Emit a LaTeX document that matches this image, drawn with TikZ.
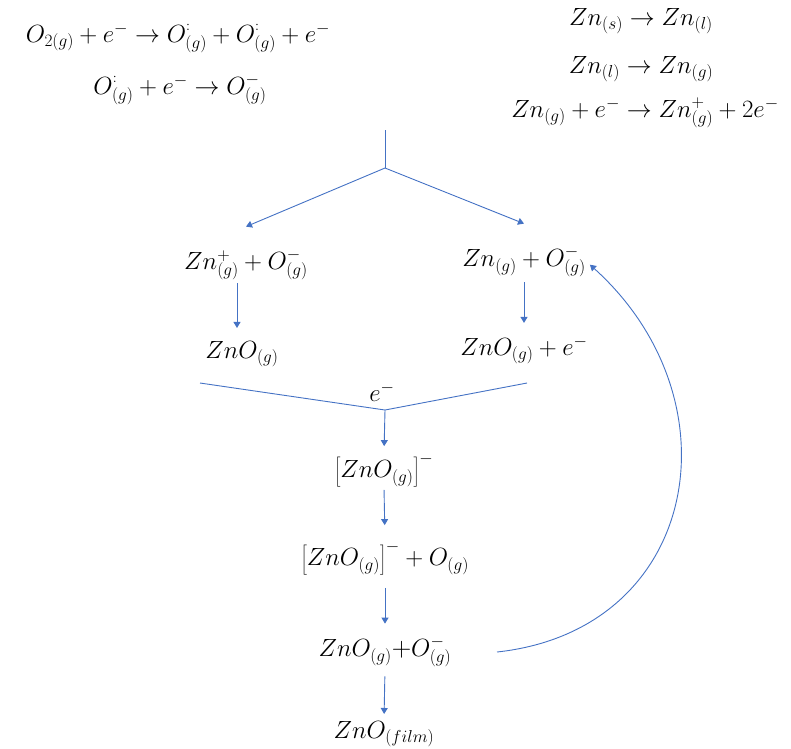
\documentclass[tikz,border=0pt]{standalone}
\usetikzlibrary{arrows.meta}
\definecolor{flowblue}{RGB}{68,114,196}
\newcommand{\rad}{^{\raisebox{3pt}{$\scriptscriptstyle :$}}}
\begin{document}
\begin{tikzpicture}[x=1pt,y=-1pt,
  eq/.style={inner sep=1pt,font=\fontsize{27}{32}\selectfont},
  flow/.style={draw=flowblue,line width=0.9pt},
  flowarrow/.style={flow,-{Triangle[length=6pt,width=7pt]}}]
\useasboundingbox (0,0) rectangle (791,748);
% oxygen side
\node[eq] (odiss) at (178,38) {$O_{2(g)}+e^-\rightarrow O\rad_{(g)}+O\rad_{(g)}+e^-$};
\node[eq] (oion) at (180,90) {$O\rad_{(g)}+e^-\rightarrow O^{-}_{(g)}$};
% zinc side
\node[eq] (zmelt) at (641,21) {$Zn_{(s)}\rightarrow Zn_{(l)}$};
\node[eq] (zevap) at (641,69) {$Zn_{(l)}\rightarrow Zn_{(g)}$};
\node[eq] (zion) at (645,113) {$Zn_{(g)}+e^-\rightarrow Zn^{+}_{(g)}+2e^-$};
% fork
\coordinate (stem) at (385,130);
\coordinate (fork) at (385,168);
\node[eq] (znion) at (246,265) {$Zn^{+}_{(g)}+O^{-}_{(g)}$};
\node[eq] (zngas) at (524,262) {$Zn_{(g)}+O^{-}_{(g)}$};
\node[eq] (znoa) at (242,354) {$ZnO_{(g)}$};
\node[eq] (znob) at (524,350) {$ZnO_{(g)}+e^-$};
% merge
\coordinate (mergeL) at (200,383);
\coordinate (mergeR) at (527,383);
\coordinate (merge) at (385,410);
\node[eq] (elec) at (382,392) {$e^-$};
\node[eq] (anion) at (384,470) {$\left[ZnO_{(g)}\right]^-$};
\node[eq] (anionO) at (385,558) {$\left[ZnO_{(g)}\right]^-+O_{(g)}$};
\node[eq] (znoO) at (385,652) {$ZnO_{(g)}$+$O^{-}_{(g)}$};
\node[eq] (film) at (384,734) {$ZnO_{(film)}$};
\coordinate (loop) at (497,652);

\draw[flow] (stem) -- (fork);
\draw[flowarrow] (fork) -- ([yshift=22pt]znion.north);
\draw[flowarrow] (fork) -- ([yshift=22pt]zngas.north);
\draw[flowarrow,shorten <=2pt,shorten >=12pt] ([xshift=-9pt]znion.south) -- ([xshift=-9pt]znion.south |- znoa.north);
\draw[flowarrow,shorten <=4pt,shorten >=12pt] (zngas.south) -- (zngas.south |- znob.north);
\draw[flow] (mergeL) -- (merge) -- (mergeR);
\draw[flowarrow,shorten >=6pt] (merge) -- (anion.north);
\draw[flowarrow,shorten <=2pt,shorten >=15pt] (anion.south) -- (anionO.north);
\draw[flowarrow,shorten <=12pt,shorten >=12pt] (anionO.south) -- (znoO.north);
\draw[flowarrow,shorten <=8pt,shorten >=6pt] (znoO.south) -- (film.north);
\draw[flowarrow,shorten >=4pt] (loop) .. controls (700,630) and (740,400) .. (zngas.east);
\end{tikzpicture}
\end{document}
